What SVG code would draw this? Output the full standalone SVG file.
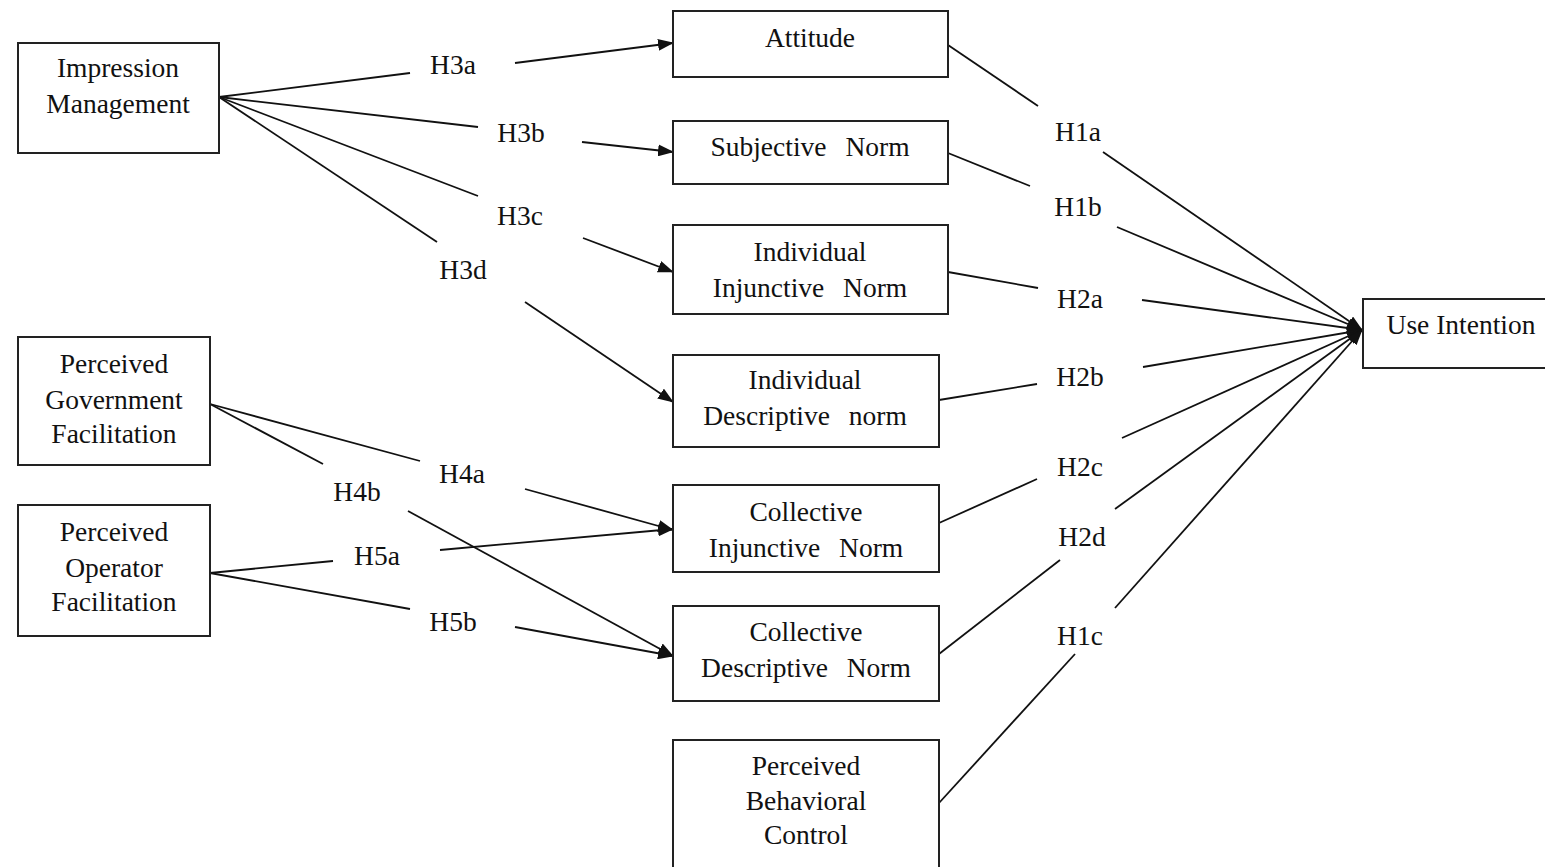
<svg xmlns="http://www.w3.org/2000/svg" width="1545" height="867" viewBox="0 0 1545 867">
<style>
.box{fill:#fff;stroke:#222;stroke-width:2}
.t{font-family:"Liberation Serif","Times New Roman",serif;font-size:27.5px;fill:#111;text-anchor:middle}
.ws{word-spacing:12px}
.c{stroke:#111;stroke-width:1.8;fill:none}
.a{marker-end:url(#ah)}
</style>
<defs>
<marker id="ah" markerUnits="userSpaceOnUse" markerWidth="16" markerHeight="12" refX="15" refY="6" orient="auto">
<path d="M0,0 L16,6 L0,12 Z" fill="#111"/>
</marker>
</defs>
<rect width="1545" height="867" fill="#fff"/>
<g id="connectors">
<line class="c" x1="219" y1="97" x2="410" y2="73"/>
<line class="c a" x1="515" y1="63" x2="673" y2="43"/>
<line class="c" x1="219" y1="97" x2="478" y2="127"/>
<line class="c a" x1="582" y1="142" x2="673" y2="152"/>
<line class="c" x1="219" y1="97" x2="478" y2="196"/>
<line class="c a" x1="583" y1="238" x2="673" y2="272"/>
<line class="c" x1="219" y1="97" x2="437" y2="242"/>
<line class="c a" x1="525" y1="302" x2="673" y2="402"/>
<line class="c" x1="210" y1="404" x2="420" y2="461"/>
<line class="c a" x1="525" y1="489" x2="673" y2="530"/>
<line class="c" x1="210" y1="404" x2="323" y2="464"/>
<line class="c a" x1="408" y1="511" x2="673" y2="656"/>
<line class="c" x1="210" y1="573" x2="333" y2="561"/>
<line class="c a" x1="440" y1="550" x2="673" y2="529"/>
<line class="c" x1="210" y1="573" x2="410" y2="609"/>
<line class="c a" x1="515" y1="627" x2="673" y2="656"/>
<line class="c" x1="948" y1="45" x2="1038" y2="106"/>
<line class="c a" x1="1103" y1="152" x2="1362" y2="330"/>
<line class="c" x1="948" y1="153" x2="1030" y2="186"/>
<line class="c a" x1="1117" y1="227" x2="1362" y2="330"/>
<line class="c" x1="948" y1="272" x2="1038" y2="288"/>
<line class="c a" x1="1142" y1="300" x2="1362" y2="330"/>
<line class="c" x1="939" y1="400" x2="1037" y2="384"/>
<line class="c a" x1="1143" y1="367" x2="1362" y2="330"/>
<line class="c" x1="939" y1="523" x2="1037" y2="479"/>
<line class="c a" x1="1122" y1="438" x2="1362" y2="330"/>
<line class="c" x1="939" y1="654" x2="1060" y2="560"/>
<line class="c a" x1="1115" y1="509" x2="1362" y2="330"/>
<line class="c" x1="939" y1="803" x2="1075" y2="654"/>
<line class="c a" x1="1115" y1="608" x2="1362" y2="330"/>
</g>
<g id="labels">
<text class="t" x="453" y="74">H3a</text>
<text class="t" x="521" y="142">H3b</text>
<text class="t" x="520" y="225">H3c</text>
<text class="t" x="463" y="279">H3d</text>
<text class="t" x="1078" y="141">H1a</text>
<text class="t" x="1078" y="216">H1b</text>
<text class="t" x="1080" y="308">H2a</text>
<text class="t" x="1080" y="386">H2b</text>
<text class="t" x="1080" y="476">H2c</text>
<text class="t" x="1082" y="546">H2d</text>
<text class="t" x="1080" y="645">H1c</text>
<text class="t" x="462" y="483">H4a</text>
<text class="t" x="357" y="501">H4b</text>
<text class="t" x="377" y="565">H5a</text>
<text class="t" x="453" y="631">H5b</text>
</g>
<g id="impression-management">
<rect class="box" x="18" y="43" width="201" height="110"/>
<text class="t" x="118" y="77">Impression</text>
<text class="t" x="118" y="113">Management</text>
</g>
<g id="attitude">
<rect class="box" x="673" y="11" width="275" height="66"/>
<text class="t" x="810" y="47">Attitude</text>
</g>
<g id="subjective-norm">
<rect class="box" x="673" y="121" width="275" height="63"/>
<text class="t ws" x="810" y="156">Subjective Norm</text>
</g>
<g id="individual-injunctive-norm">
<rect class="box" x="673" y="225" width="275" height="89"/>
<text class="t" x="810" y="261">Individual</text>
<text class="t ws" x="810" y="297">Injunctive Norm</text>
</g>
<g id="individual-descriptive-norm">
<rect class="box" x="673" y="355" width="266" height="92"/>
<text class="t" x="805" y="389">Individual</text>
<text class="t ws" x="805" y="425">Descriptive norm</text>
</g>
<g id="collective-injunctive-norm">
<rect class="box" x="673" y="485" width="266" height="87"/>
<text class="t" x="806" y="521">Collective</text>
<text class="t ws" x="806" y="557">Injunctive Norm</text>
</g>
<g id="collective-descriptive-norm">
<rect class="box" x="673" y="606" width="266" height="95"/>
<text class="t" x="806" y="641">Collective</text>
<text class="t ws" x="806" y="677">Descriptive Norm</text>
</g>
<g id="perceived-behavioral-control">
<rect class="box" x="673" y="740" width="266" height="140"/>
<text class="t" x="806" y="775">Perceived</text>
<text class="t" x="806" y="810">Behavioral</text>
<text class="t" x="806" y="844">Control</text>
</g>
<g id="use-intention">
<rect class="box" x="1363" y="299" width="190" height="69"/>
<text class="t" x="1461" y="334">Use Intention</text>
</g>
<g id="perceived-government-facilitation">
<rect class="box" x="18" y="337" width="192" height="128"/>
<text class="t" x="114" y="373">Perceived</text>
<text class="t" x="114" y="409">Government</text>
<text class="t" x="114" y="443">Facilitation</text>
</g>
<g id="perceived-operator-facilitation">
<rect class="box" x="18" y="505" width="192" height="131"/>
<text class="t" x="114" y="541">Perceived</text>
<text class="t" x="114" y="577">Operator</text>
<text class="t" x="114" y="611">Facilitation</text>
</g>
</svg>
